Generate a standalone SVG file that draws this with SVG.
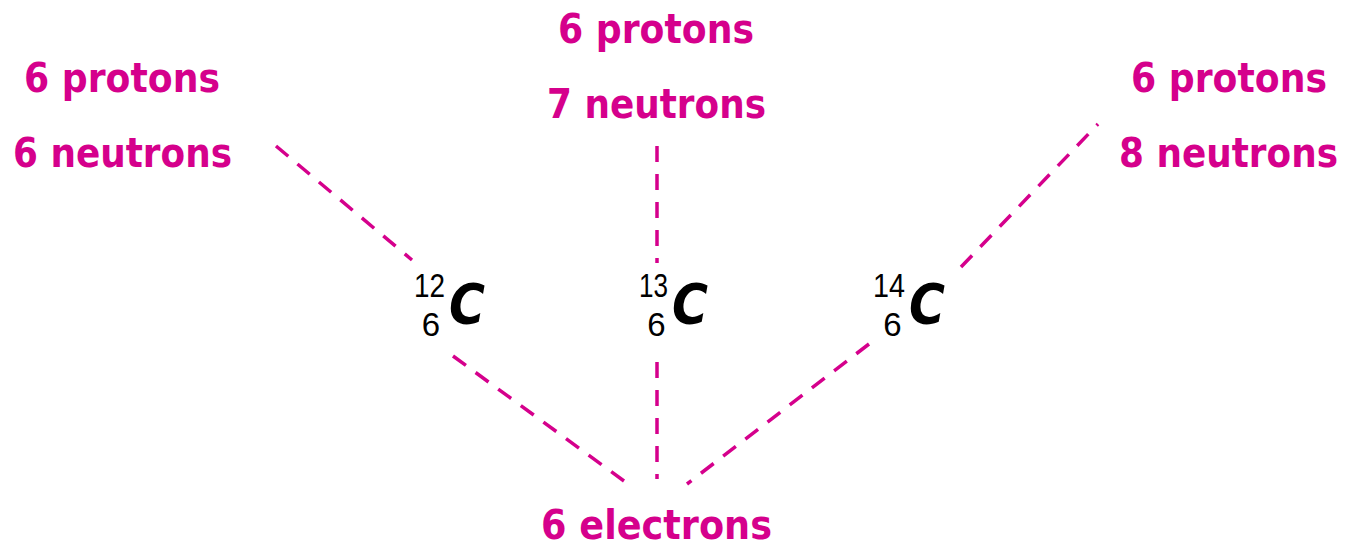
<svg xmlns="http://www.w3.org/2000/svg" width="1345" height="545" viewBox="0 0 1345 545">
<style>
.lbl{font-family:"Comic Sans MS","DejaVu Sans",sans-serif;font-weight:bold;font-size:40px;fill:#d5008c}
.num{font-family:"Liberation Sans",sans-serif;font-size:33px;fill:#000}
.sym{font-family:"DejaVu Sans",sans-serif;font-weight:bold;font-style:italic;font-size:56px;fill:#000}
.dash{stroke:#d5008c;stroke-width:3.5;stroke-dasharray:16 12;fill:none}
</style>
<rect width="1345" height="545" fill="#fff"/>
<g id="connectors">
<line class="dash" x1="276" y1="146" x2="412" y2="260"/>
<line class="dash" x1="453" y1="356" x2="624" y2="481"/>
<line class="dash" x1="657" y1="146" x2="657" y2="263"/>
<line class="dash" x1="657" y1="362" x2="657" y2="479"/>
<line class="dash" x1="961" y1="267" x2="1098" y2="124"/>
<line class="dash" x1="869" y1="344" x2="687" y2="484"/>
</g>
<g id="label-c12">
<text class="lbl" x="24" y="92" textLength="196" lengthAdjust="spacingAndGlyphs">6 protons</text>
<text class="lbl" x="13" y="167" textLength="219" lengthAdjust="spacingAndGlyphs">6 neutrons</text>
</g>
<g id="label-c13">
<text class="lbl" x="558" y="43" textLength="196" lengthAdjust="spacingAndGlyphs">6 protons</text>
<text class="lbl" x="547" y="118" textLength="219" lengthAdjust="spacingAndGlyphs">7 neutrons</text>
</g>
<g id="label-c14">
<text class="lbl" x="1131" y="92" textLength="196" lengthAdjust="spacingAndGlyphs">6 protons</text>
<text class="lbl" x="1119" y="167" textLength="219" lengthAdjust="spacingAndGlyphs">8 neutrons</text>
</g>
<g id="label-electrons">
<text class="lbl" x="541" y="539" textLength="231" lengthAdjust="spacingAndGlyphs">6 electrons</text>
</g>
<g id="c12">
<text class="num" x="414" y="297" textLength="31" lengthAdjust="spacingAndGlyphs">12</text>
<text class="num" x="431" y="336" text-anchor="middle">6</text>
<text class="sym" x="449" y="323" textLength="36" lengthAdjust="spacingAndGlyphs">C</text>
</g>
<g id="c13">
<text class="num" x="639" y="297" textLength="29" lengthAdjust="spacingAndGlyphs">13</text>
<text class="num" x="656.5" y="336" text-anchor="middle">6</text>
<text class="sym" x="672" y="323" textLength="36" lengthAdjust="spacingAndGlyphs">C</text>
</g>
<g id="c14">
<text class="num" x="873" y="297" textLength="32" lengthAdjust="spacingAndGlyphs">14</text>
<text class="num" x="892.5" y="336" text-anchor="middle">6</text>
<text class="sym" x="909" y="323" textLength="36" lengthAdjust="spacingAndGlyphs">C</text>
</g>
</svg>
